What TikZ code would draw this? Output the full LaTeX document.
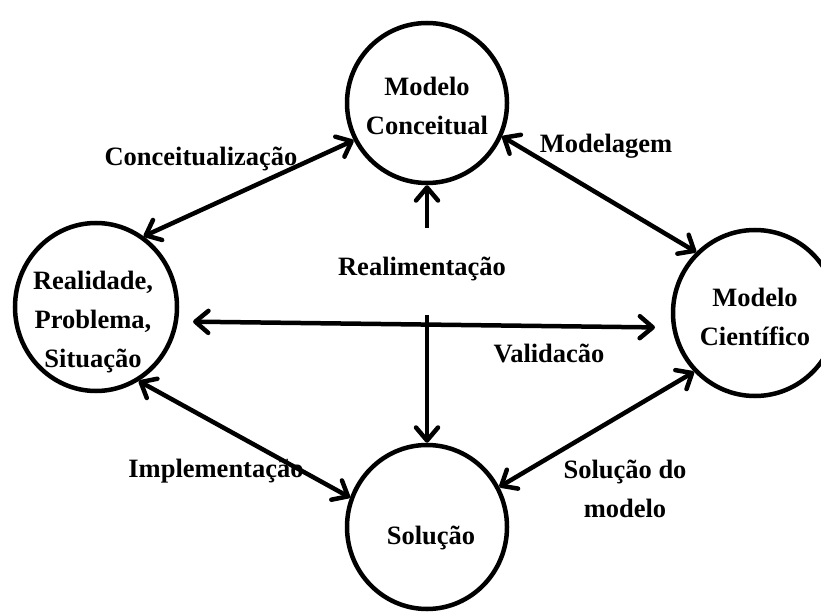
\documentclass[tikz,border=0pt]{standalone}
\usepackage{fontspec}
\setmainfont{Liberation Serif}
\usetikzlibrary{arrows.meta,shapes.geometric}
\begin{document}
\begin{tikzpicture}[x=1pt,y=-1pt,
  txt/.style={font=\fontsize{26.5}{39}\selectfont\bfseries, inner sep=0pt, align=center},
  blob/.style={draw, ellipse, line width=4.5pt, inner sep=0pt},
  barb/.tip={Straight Barb[length=13pt,width=22pt,line cap=round,line join=round]},
  arr/.style={line width=4.5pt, barb-barb},
  sarr/.style={line width=4.5pt, -barb}]
\useasboundingbox (0,0) rectangle (821,612);

\node[blob, minimum width=160pt, minimum height=160pt,
      label={[txt, yshift=-3pt]center:Modelo\\Conceitual}] (mc) at (427,103) {};
\node[blob, minimum width=162pt, minimum height=168pt,
      label={[txt, xshift=-3pt, yshift=-15pt]center:Realidade,\\Problema,\\Situação}] (re) at (96,307) {};
\node[blob, minimum width=164pt, minimum height=166pt,
      label={[txt, yshift=-4pt]center:Modelo\\Científico}] (ci) at (755,313) {};
\node[blob, minimum width=160pt, minimum height=164pt,
      label={[txt, xshift=4pt, yshift=-11pt]center:Solução}] (so) at (427,527) {};

\draw[arr] (re.56) -- (mc.207);
\draw[arr] (mc.-24) -- (ci.134);
\draw[arr] (re.-60) -- (so.159);
\draw[arr] (so.29) -- (ci.224);
\draw[arr, shorten <=15pt, shorten >=17pt] (re.-10) -- (ci.190);

\node[txt, anchor=base] (lr) at (422,275) {Realimentação};
\coordinate (r1) at (427,228);
\coordinate (r2) at (427,315);
\draw[sarr] (r1) -- (mc.south);
\draw[sarr] (r2) -- (so.north);

\node[txt, anchor=base] (lc) at (201,166) {Conceitualização};
\node[txt, anchor=base] (lm) at (606,153) {Modelagem};
\node[txt, anchor=base] (lv) at (549,362) {Validacão};
\node[txt, anchor=base] (li) at (216,477) {Implementação};
\node[txt, anchor=north] (ls) at (625,460) {Solução do\\modelo};
\end{tikzpicture}
\end{document}
